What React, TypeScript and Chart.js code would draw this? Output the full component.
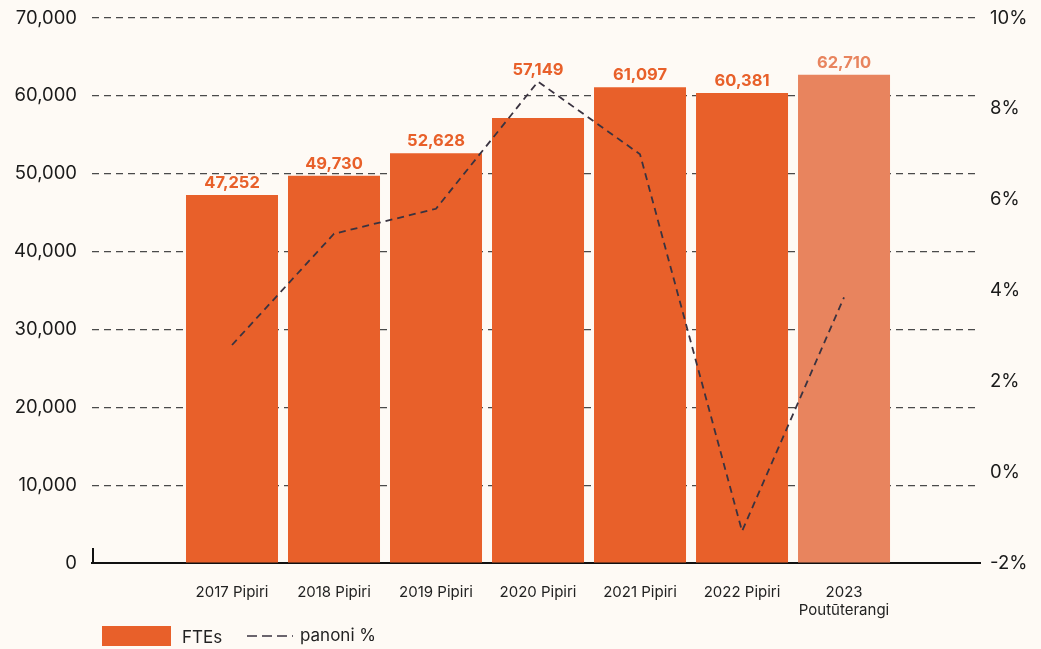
import React, { useEffect, useRef } from "react";
import { Chart, registerables } from "chart.js";

Chart.register(...registerables);

const categories: (string | string[])[] = [
  "2017 Pipiri",
  "2018 Pipiri",
  "2019 Pipiri",
  "2020 Pipiri",
  "2021 Pipiri",
  "2022 Pipiri",
  ["2023", "Poutūterangi"],
];
const fteValues = [47252, 49730, 52628, 57149, 61097, 60381, 62710];
const changePct = [2.8, 5.25, 5.8, 8.6, 7.0, -1.3, 3.85];
const barColors = ["#E8602A", "#E8602A", "#E8602A", "#E8602A", "#E8602A", "#E8602A", "#E8845E"];
const seriesNames = ["FTEs", "panoni %"];

const BG = "#FEFAF5";
const FONT = "Inter, 'Noto Sans', sans-serif";
const LINE_COLOR = "#3A3340";
const X_MIN = -0.3725;
const X_MAX = 8.333;

export default function App() {
  const ref = useRef<HTMLCanvasElement | null>(null);

  useEffect(() => {
    document.body.style.margin = "0";
    document.body.style.background = BG;
    const canvas = ref.current;
    if (!canvas) return;

    const dataLabels = {
      id: "dataLabels",
      afterDatasetsDraw(chart: any) {
        const barMeta = chart.getDatasetMeta(1);
        const lineMeta = chart.getDatasetMeta(0);
        const ctx = chart.ctx;
        ctx.save();
        ctx.font = `bold 16.5px ${FONT}`;
        ctx.textAlign = "center";
        ctx.textBaseline = "middle";
        barMeta.data.forEach((bar: any, i: number) => {
          const pt = lineMeta.data[i];
          const top = pt ? Math.min(bar.y, pt.y) : bar.y;
          ctx.fillStyle = barColors[i];
          ctx.fillText(fteValues[i].toLocaleString("en-US"), bar.x, top - 12);
        });
        ctx.restore();
      },
    };

    const axisTick = {
      id: "axisTick",
      beforeDatasetsDraw(chart: any) {
        const { ctx, chartArea } = chart;
        ctx.save();
        ctx.strokeStyle = "#111";
        ctx.lineWidth = 2;
        ctx.beginPath();
        ctx.moveTo(chartArea.left + 1, chartArea.bottom - 15);
        ctx.lineTo(chartArea.left + 1, chartArea.bottom);
        ctx.stroke();
        ctx.restore();
      },
    };

    const customLegend = {
      id: "customLegend",
      afterDraw(chart: any) {
        const { ctx, chartArea } = chart;
        const x0 = chartArea.left + 10;
        const y = 636;
        ctx.save();
        ctx.fillStyle = barColors[0];
        ctx.fillRect(x0, 626, 69, 20);
        ctx.font = `17px ${FONT}`;
        ctx.fillStyle = "#222";
        ctx.textBaseline = "middle";
        ctx.textAlign = "left";
        ctx.fillText(seriesNames[0], x0 + 80, y + 2);
        ctx.strokeStyle = LINE_COLOR;
        ctx.lineWidth = 1.5;
        ctx.setLineDash([10, 5]);
        ctx.beginPath();
        ctx.moveTo(x0 + 145, y);
        ctx.lineTo(x0 + 191, y);
        ctx.stroke();
        ctx.setLineDash([]);
        ctx.fillText(seriesNames[1], x0 + 198, y);
        ctx.restore();
      },
    };

    const chart = new Chart(canvas, {
      type: "bar",
      data: {
        datasets: [
          {
            type: "line",
            label: seriesNames[1],
            data: changePct.map((v, i) => ({ x: i + 1, y: v })),
            yAxisID: "y1",
            borderColor: LINE_COLOR,
            borderWidth: 1.8,
            borderDash: [7, 5],
            pointRadius: 0,
            tension: 0,
            fill: false,
            order: 0,
          } as any,
          {
            type: "bar",
            label: seriesNames[0],
            data: fteValues.map((v, i) => ({ x: i + 1, y: v })),
            yAxisID: "y",
            backgroundColor: barColors,
            borderWidth: 0,
            categoryPercentage: 1,
            barPercentage: 0.902,
            order: 1,
          } as any,
        ],
      },
      options: {
        responsive: false,
        animation: false,
        layout: { padding: { top: 18, bottom: 0, left: 0, right: 0 } },
        plugins: {
          legend: { display: false },
          tooltip: { enabled: false },
        },
        scales: {
          x: {
            type: "linear",
            offset: false,
            bounds: "data",
            min: X_MIN,
            max: X_MAX,
            grid: { display: false, drawTicks: false, offset: false },
            border: { display: true, color: "#111", width: 2 },
            afterBuildTicks: (scale: any) => {
              scale.ticks = categories.map((_, i) => ({ value: i + 1 }));
              scale.min = X_MIN;
              scale.max = X_MAX;
            },
            afterFit: (scale: any) => {
              scale.height = 86;
              scale.paddingLeft = 0;
              scale.paddingRight = 0;
            },
            ticks: {
              autoSkip: false,
              maxRotation: 0,
              minRotation: 0,
              padding: 20,
              color: "#222",
              font: { family: FONT, size: 15 },
              callback: (v: any) => categories[Number(v) - 1] ?? "",
            },
          } as any,
          y: {
            position: "left",
            min: 0,
            max: 70000,
            grid: { color: "#4A4A4A", lineWidth: 1.2, drawTicks: false },
            border: { display: false, dash: [7, 5] },
            afterFit: (scale: any) => {
              scale.width = 92;
              scale.paddingTop = 0;
              scale.paddingBottom = 0;
            },
            ticks: {
              stepSize: 10000,
              padding: 15,
              color: "#1A1A1A",
              font: { family: FONT, size: 18.5 },
              callback: (v: any) => Number(v).toLocaleString("en-US"),
            },
          } as any,
          y1: {
            position: "right",
            min: -2,
            max: 10,
            grid: { display: false, drawTicks: false },
            border: { display: false },
            afterFit: (scale: any) => {
              scale.width = 61;
              scale.paddingTop = 0;
              scale.paddingBottom = 0;
            },
            ticks: {
              stepSize: 2,
              padding: 10,
              color: "#1A1A1A",
              font: { family: FONT, size: 18.5 },
              callback: (v: any) => `${v}%`,
            },
          } as any,
        },
      },
      plugins: [dataLabels, axisTick, customLegend],
    });

    return () => chart.destroy();
  }, []);

  return (
    <div style={{ width: 1041, height: 649, background: BG }}>
      <canvas ref={ref} width={1041} height={649} style={{ display: "block" }} />
    </div>
  );
}
